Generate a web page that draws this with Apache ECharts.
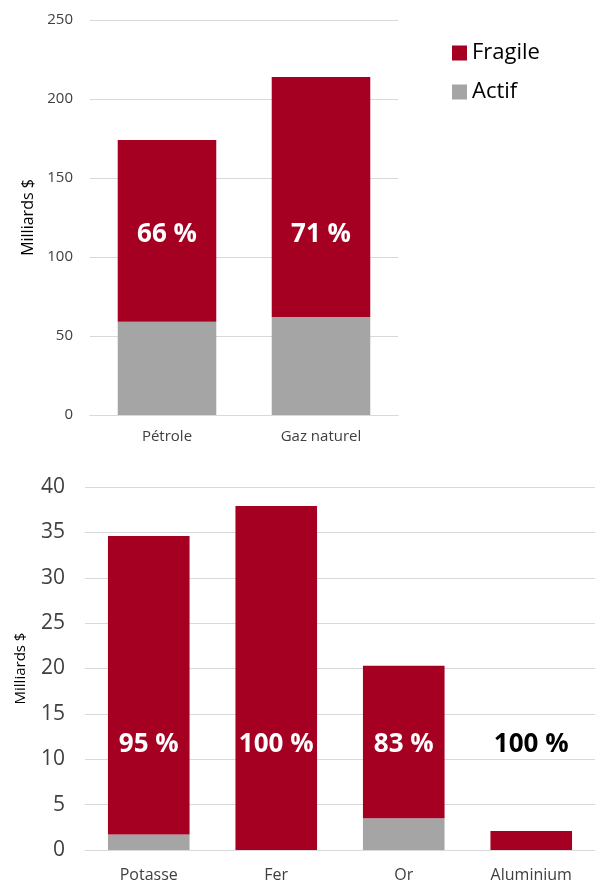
<!DOCTYPE html>
<html><head><meta charset="utf-8">
<script src="https://cdn.jsdelivr.net/npm/echarts@6/dist/echarts.min.js"></script>
<style>html,body{margin:0;padding:0;background:#fff}#c{width:595px;height:883px}</style>
</head><body><div id="c"></div>
<script>
// Top chart data
const topCategories = ['Pétrole', 'Gaz naturel'];
const topActif = [59, 62];
const topFragile = [115, 152];
const topPct = ['66 %', '71 %'];
const topLabelLevel = [114, 114];
const topTicks = { min: 0, max: 250, interval: 50 };

// Bottom chart data
const botCategories = ['Potasse', 'Fer', 'Or', 'Aluminium'];
const botActif = [1.7, 0, 3.5, 0];
const botFragile = [32.9, 37.9, 16.8, 2.1];
const botPct = ['95 %', '100 %', '83 %', '100 %'];
const botLabelLevel = [11.6, 11.6, 11.6, 11.6];
const botLabelColor = ['#ffffff', '#ffffff', '#ffffff', '#000000'];
const botTicks = { min: 0, max: 40, interval: 5 };

const RED = '#A50021', GRAY = '#A5A5A5', GRID = '#D9D9D9', FONT = 'Open Sans';

const chart = echarts.init(document.getElementById('c'), null, { renderer: 'canvas' });

function labelSeries(name, xi, cats, levels, pcts, colors) {
  return {
    name: name, type: 'scatter', xAxisIndex: xi, yAxisIndex: xi,
    symbolSize: 1, itemStyle: { color: 'rgba(0,0,0,0)' }, silent: true, z: 5,
    data: cats.map((c, i) => ({
      value: [c, levels[i]],
      label: { show: true, position: 'inside', formatter: pcts[i],
        color: colors ? colors[i] : '#ffffff', opacity: 1, textBorderWidth: 0,
        fontFamily: FONT, fontWeight: 'bold', fontSize: 26 }
    }))
  };
}

const option = {
  animation: false,
  textStyle: { fontFamily: FONT },
  legend: {
    data: ['Fragile', 'Actif'], orient: 'vertical', left: 447, top: 37,
    itemWidth: 15, itemHeight: 15, itemGap: 17, icon: 'rect',
    textStyle: { fontFamily: FONT, fontSize: 22, color: '#000', lineHeight: 22 }
  },
  grid: [
    { left: 90, top: 20, width: 308, height: 395 },
    { left: 85, top: 487, width: 512, height: 365 }
  ],
  xAxis: [
    { type: 'category', gridIndex: 0, data: topCategories,
      axisLine: { lineStyle: { color: GRID } }, axisTick: { show: false },
      axisLabel: { fontFamily: FONT, fontSize: 15, color: '#404040', margin: 14 } },
    { type: 'category', gridIndex: 1, data: botCategories,
      axisLine: { lineStyle: { color: GRID } }, axisTick: { show: false },
      axisLabel: { fontFamily: FONT, fontSize: 16, color: '#404040', margin: 17 } }
  ],
  yAxis: [
    { type: 'value', gridIndex: 0, min: topTicks.min, max: topTicks.max, interval: topTicks.interval,
      name: 'Milliards $', nameLocation: 'middle', nameGap: 53, nameRotate: 90,
      nameTextStyle: { fontFamily: FONT, fontSize: 16, color: '#000' },
      axisLine: { show: false }, axisTick: { show: false },
      splitLine: { lineStyle: { color: GRID, width: 1 } },
      axisLabel: { fontFamily: FONT, fontSize: 15, color: '#404040', margin: 17 } },
    { type: 'value', gridIndex: 1, min: botTicks.min, max: botTicks.max, interval: botTicks.interval,
      name: 'Milliards $', nameLocation: 'middle', nameGap: 57, nameRotate: 90,
      nameTextStyle: { fontFamily: FONT, fontSize: 15, color: '#000' },
      axisLine: { show: false }, axisTick: { show: false },
      splitLine: { lineStyle: { color: GRID, width: 1 } },
      axisLabel: { fontFamily: FONT, fontSize: 21, color: '#404040', margin: 20 } }
  ],
  series: [
    { name: 'Actif', type: 'bar', stack: 'top', xAxisIndex: 0, yAxisIndex: 0, barWidth: '64%',
      itemStyle: { color: GRAY }, data: topActif },
    { name: 'Fragile', type: 'bar', stack: 'top', xAxisIndex: 0, yAxisIndex: 0, barWidth: '64%',
      itemStyle: { color: RED }, data: topFragile },
    { name: 'Actif', type: 'bar', stack: 'bot', xAxisIndex: 1, yAxisIndex: 1, barWidth: '64%',
      itemStyle: { color: GRAY }, data: botActif },
    { name: 'Fragile', type: 'bar', stack: 'bot', xAxisIndex: 1, yAxisIndex: 1, barWidth: '64%',
      itemStyle: { color: RED }, data: botFragile },
    labelSeries('lblTop', 0, topCategories, topLabelLevel, topPct, null),
    labelSeries('lblBot', 1, botCategories, botLabelLevel, botPct, botLabelColor)
  ]
};
chart.setOption(option);
</script></body></html>
